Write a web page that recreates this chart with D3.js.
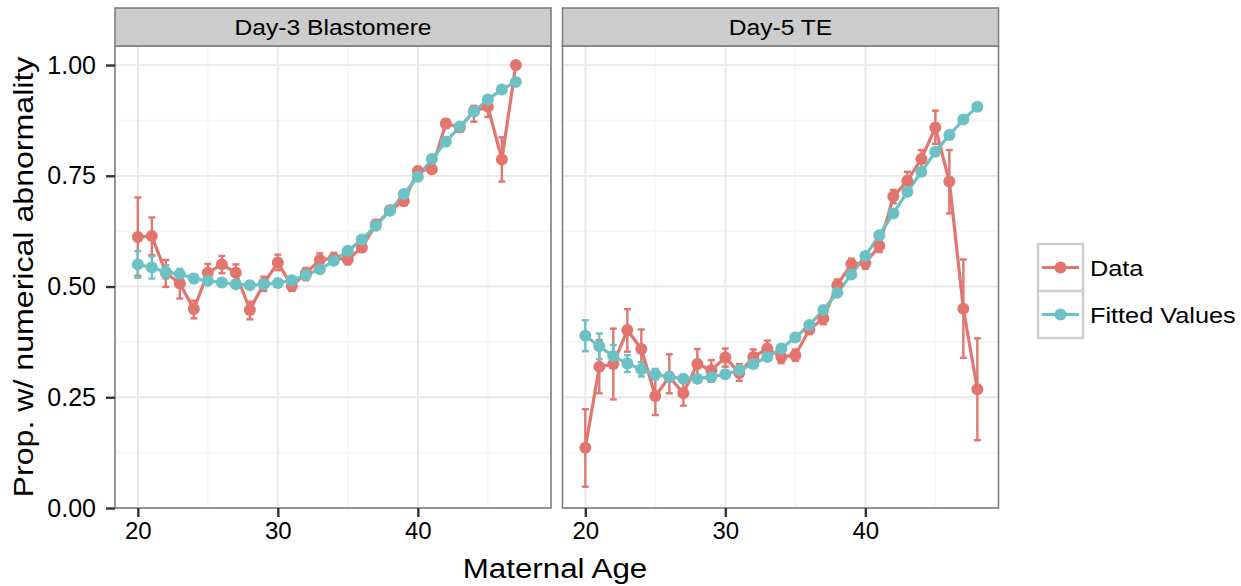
<!DOCTYPE html>
<html>
<head>
<meta charset="utf-8">
<script src="https://cdn.jsdelivr.net/npm/d3@7"></script>
<style>
  html, body { margin: 0; padding: 0; background: #ffffff; }
  svg { display: block; }
  text { font-family: "Liberation Sans", Arial, Helvetica, sans-serif; fill: #000; }
</style>
</head>
<body>
<svg id="chart" width="1241" height="586"></svg>
<script>
// ---- data -------------------------------------------------------------
const panels = ["Day-3 Blastomere", "Day-5 TE"];
const seriesNames = ["Data", "Fitted Values"];

const agesD3 = d3.range(20, 48);   // 20..47
const agesD5 = d3.range(20, 49);   // 20..48

// Day-3 blastomere: observed proportions with CI bounds
const d3Data   = [0.612,0.614,0.531,0.507,0.449,0.531,0.550,0.531,0.447,0.507,0.554,0.501,0.530,0.560,0.564,0.561,0.588,0.640,0.672,0.693,0.761,0.765,0.868,0.859,0.895,0.906,0.787,1.000];
const d3DataLo = [0.524,0.571,0.499,0.473,0.428,0.513,0.530,0.514,0.426,0.490,0.537,0.490,0.514,0.546,0.552,0.550,0.578,0.630,0.662,0.683,0.752,0.756,0.858,0.850,0.872,0.883,0.737,1.000];
const d3DataHi = [0.701,0.656,0.560,0.533,0.468,0.551,0.569,0.550,0.466,0.522,0.572,0.516,0.542,0.575,0.576,0.572,0.598,0.650,0.682,0.703,0.770,0.774,0.878,0.868,0.908,0.917,0.837,1.000];
// Day-3 blastomere: fitted values and half-width of their intervals
const d3Fit    = [0.550,0.543,0.533,0.528,0.518,0.513,0.509,0.505,0.503,0.505,0.508,0.514,0.526,0.539,0.558,0.581,0.606,0.637,0.671,0.709,0.748,0.788,0.827,0.861,0.895,0.922,0.945,0.962];
const d3FitErr = [0.030,0.025,0.015,0.012,0.010,0.008,0.008,0.007,0.007,0.007,0.007,0.007,0.007,0.007,0.007,0.007,0.007,0.007,0.007,0.007,0.008,0.008,0.008,0.008,0.008,0.008,0.008,0.008];

// Day-5 trophectoderm: observed proportions with CI bounds
const d5Data   = [0.136,0.319,0.325,0.402,0.359,0.253,0.296,0.259,0.325,0.311,0.340,0.305,0.341,0.360,0.341,0.345,0.403,0.428,0.503,0.551,0.553,0.592,0.703,0.739,0.788,0.859,0.737,0.450,0.268];
const d5DataLo = [0.048,0.259,0.245,0.353,0.311,0.210,0.259,0.231,0.292,0.285,0.319,0.287,0.323,0.343,0.327,0.332,0.393,0.415,0.490,0.537,0.540,0.578,0.688,0.718,0.767,0.822,0.665,0.339,0.153];
const d5DataHi = [0.223,0.379,0.405,0.449,0.403,0.296,0.347,0.285,0.359,0.334,0.360,0.325,0.358,0.378,0.356,0.358,0.414,0.440,0.516,0.563,0.565,0.605,0.718,0.759,0.808,0.897,0.808,0.561,0.383];
// Day-5 trophectoderm: fitted values and half-width of their intervals
const d5Fit    = [0.389,0.365,0.343,0.326,0.313,0.302,0.296,0.292,0.292,0.296,0.302,0.311,0.325,0.341,0.360,0.385,0.413,0.447,0.486,0.527,0.569,0.616,0.665,0.714,0.759,0.804,0.842,0.877,0.906];
const d5FitErr = [0.035,0.029,0.025,0.019,0.016,0.012,0.010,0.009,0.008,0.008,0.008,0.008,0.008,0.008,0.008,0.008,0.008,0.008,0.008,0.008,0.008,0.008,0.008,0.008,0.008,0.008,0.008,0.008,0.008];

const xTicks = [20, 30, 40];
const xMinor = [25, 35, 45];
const yTicks = [0, 0.25, 0.5, 0.75, 1.0];
const yMinor = [0.125, 0.375, 0.625, 0.875];

// ---- build records ----------------------------------------------------
function observed(ages, v, lo, hi) {
  return ages.map((a, i) => ({ age: a, v: v[i], lo: lo[i], hi: hi[i] }));
}
function fitted(ages, v, e) {
  return ages.map((a, i) => ({ age: a, v: v[i], lo: v[i] - e[i], hi: v[i] + e[i] }));
}
const panelSeries = [
  [observed(agesD3, d3Data, d3DataLo, d3DataHi), fitted(agesD3, d3Fit, d3FitErr)],
  [observed(agesD5, d5Data, d5DataLo, d5DataHi), fitted(agesD5, d5Fit, d5FitErr)]
];

// ---- layout -----------------------------------------------------------
const colors = ["#E2766F", "#6CC1C4"];
const panelX = [115, 562.5];
const panelW = 436;
const panelTop = 46, panelBottom = 508;
const stripTop = 8;
const pointR = 6;

const y = d3.scaleLinear().domain([0, 1.043]).range([panelBottom, panelTop]);

const svg = d3.select("#chart");

// text helper: glyphs drawn slightly wide, as in the original typesetting
function wideText(parent, x, yPos, str, size, sx, anchor, rotate) {
  const g = parent.append("g")
    .attr("transform", `translate(${x},${yPos})` + (rotate ? ` rotate(${rotate})` : ""));
  g.append("text")
    .attr("transform", `scale(${sx},1)`)
    .attr("text-anchor", anchor)
    .style("font-size", size + "px")
    .text(str);
  return g;
}

panels.forEach((name, p) => {
  const x0 = panelX[p];
  const x = d3.scaleLinear().domain([18.37, 49.51]).range([x0, x0 + panelW]);
  const g = svg.append("g");

  // panel background
  g.append("rect")
    .attr("x", x0).attr("y", panelTop)
    .attr("width", panelW).attr("height", panelBottom - panelTop)
    .attr("fill", "#ffffff");

  // minor grid
  g.selectAll(".vminor").data(xMinor).join("line")
    .attr("x1", d => x(d)).attr("x2", d => x(d))
    .attr("y1", panelTop).attr("y2", panelBottom)
    .attr("stroke", "#f7f7f7").attr("stroke-width", 1.8);
  g.selectAll(".hminor").data(yMinor).join("line")
    .attr("x1", x0).attr("x2", x0 + panelW)
    .attr("y1", d => y(d)).attr("y2", d => y(d))
    .attr("stroke", "#f7f7f7").attr("stroke-width", 1.8);
  // major grid
  g.selectAll(".vmajor").data(xTicks).join("line")
    .attr("x1", d => x(d)).attr("x2", d => x(d))
    .attr("y1", panelTop).attr("y2", panelBottom)
    .attr("stroke", "#e8e8e8").attr("stroke-width", 1.8);
  g.selectAll(".hmajor").data(yTicks).join("line")
    .attr("x1", x0).attr("x2", x0 + panelW)
    .attr("y1", d => y(d)).attr("y2", d => y(d))
    .attr("stroke", "#e8e8e8").attr("stroke-width", 1.8);

  const series = panelSeries[p];
  const capHalf = x(20.25) - x(20);

  // error bars
  series.forEach((s, k) => {
    const eg = g.append("g").attr("stroke", colors[k]).attr("stroke-width", 2.4).attr("fill", "none");
    const bars = s.filter(d => d.hi - d.lo > 0.0001);
    eg.selectAll(".stem").data(bars).join("line")
      .attr("x1", d => x(d.age)).attr("x2", d => x(d.age))
      .attr("y1", d => y(d.lo)).attr("y2", d => y(d.hi));
    eg.selectAll(".capt").data(bars).join("line")
      .attr("x1", d => x(d.age) - capHalf).attr("x2", d => x(d.age) + capHalf)
      .attr("y1", d => y(d.hi)).attr("y2", d => y(d.hi));
    eg.selectAll(".capb").data(bars).join("line")
      .attr("x1", d => x(d.age) - capHalf).attr("x2", d => x(d.age) + capHalf)
      .attr("y1", d => y(d.lo)).attr("y2", d => y(d.lo));
  });

  // connecting lines
  const line = d3.line().x(d => x(d.age)).y(d => y(d.v));
  series.forEach((s, k) => {
    g.append("path").datum(s)
      .attr("d", line)
      .attr("fill", "none")
      .attr("stroke", colors[k])
      .attr("stroke-width", 3.2)
      .attr("stroke-linejoin", "round");
  });

  // points
  series.forEach((s, k) => {
    g.append("g").selectAll("circle").data(s).join("circle")
      .attr("cx", d => x(d.age)).attr("cy", d => y(d.v))
      .attr("r", pointR).attr("fill", colors[k]);
  });

  // panel border
  g.append("rect")
    .attr("x", x0).attr("y", panelTop)
    .attr("width", panelW).attr("height", panelBottom - panelTop)
    .attr("fill", "none").attr("stroke", "#7f7f7f").attr("stroke-width", 1.6);

  // strip
  g.append("rect")
    .attr("x", x0).attr("y", stripTop)
    .attr("width", panelW).attr("height", panelTop - stripTop)
    .attr("fill", "#cccccc").attr("stroke", "#7f7f7f").attr("stroke-width", 1.6);
  wideText(g, x0 + panelW / 2, 35, name, 22, 1.12, "middle");

  // bottom axis
  const xAxis = d3.axisBottom(x).tickValues(xTicks).tickSize(9).tickPadding(5).tickFormat(d3.format("d"));
  const ax = g.append("g").attr("transform", `translate(0,${panelBottom})`).call(xAxis);
  ax.select(".domain").remove();
  ax.selectAll(".tick line").attr("stroke", "#333").attr("stroke-width", 2.4);
  ax.selectAll(".tick text").style("font-size", "24px").attr("fill", "#000")
    .style("font-family", "'Liberation Sans', Arial, sans-serif");
});

// left axis
const yAxis = d3.axisLeft(y).tickValues(yTicks).tickSize(9).tickPadding(10).tickFormat(d3.format(".2f"));
const ay = svg.append("g").attr("transform", `translate(${panelX[0]},0)`).call(yAxis);
ay.select(".domain").remove();
ay.selectAll(".tick line").attr("stroke", "#333").attr("stroke-width", 2.4);
ay.selectAll(".tick text").style("font-size", "25px").attr("fill", "#000")
  .style("font-family", "'Liberation Sans', Arial, sans-serif");

// axis titles
wideText(svg, 555, 578, "Maternal Age", 27, 1.16, "middle");
wideText(svg, 33, (panelTop + panelBottom) / 2, "Prop. w/ numerical abnormality", 27, 1.19, "middle", -90);

// legend
const legend = svg.append("g");
const keyX = 1038, keyW = 45, keyH = 47, keyY0 = 244;
seriesNames.forEach((nm, k) => {
  const ky = keyY0 + k * keyH;
  legend.append("rect")
    .attr("x", keyX).attr("y", ky).attr("width", keyW).attr("height", keyH)
    .attr("fill", "#ffffff").attr("stroke", "#cccccc").attr("stroke-width", 2.4);
  legend.append("line")
    .attr("x1", keyX + 4).attr("x2", keyX + keyW - 4)
    .attr("y1", ky + keyH / 2).attr("y2", ky + keyH / 2)
    .attr("stroke", colors[k]).attr("stroke-width", 3.2);
  legend.append("circle")
    .attr("cx", keyX + keyW / 2).attr("cy", ky + keyH / 2)
    .attr("r", pointR).attr("fill", colors[k]);
  wideText(legend, keyX + 52, ky + keyH / 2 + 8, nm, 22, 1.15, "start");
});
</script>
</body>
</html>
